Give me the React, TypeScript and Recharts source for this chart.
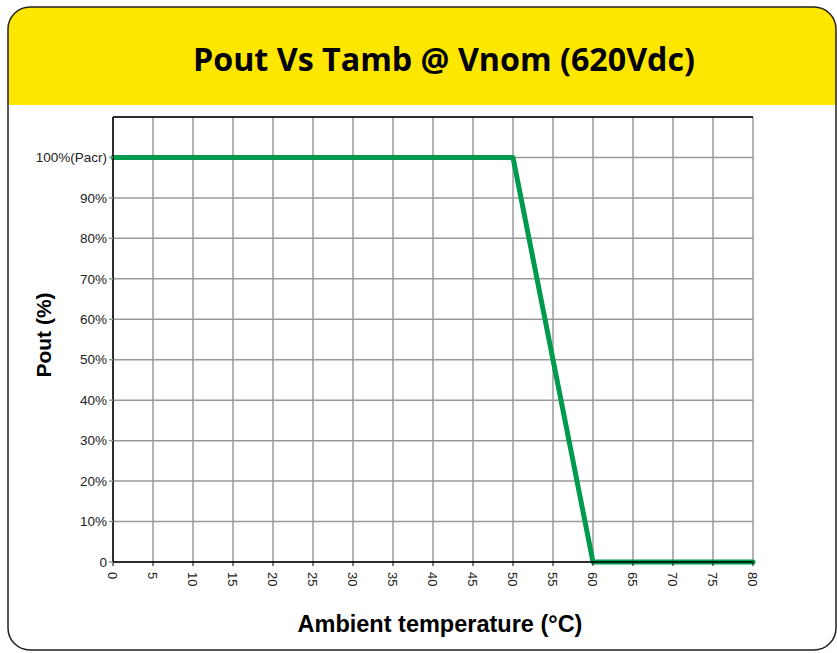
import React from "react";
import { LineChart, Line, XAxis, YAxis, CartesianGrid, ReferenceLine } from "recharts";

const temps = [0, 50, 60, 80];
const pout = [100, 100, 0, 0];
const xTicks = [0, 5, 10, 15, 20, 25, 30, 35, 40, 45, 50, 55, 60, 65, 70, 75, 80];
const yTicks = [0, 10, 20, 30, 40, 50, 60, 70, 80, 90, 100];
const yTickLabels = ["0", "10%", "20%", "30%", "40%", "50%", "60%", "70%", "80%", "90%", "100%(Pacr)"];

const data = temps.map((t, i) => ({ t, p: pout[i] }));

const XTick = (props: any) => {
  const { x, y, payload } = props;
  return (
    <text
      x={0}
      y={0}
      transform={`translate(${x},${y + 4}) rotate(90)`}
      textAnchor="start"
      dy="0.35em"
      fontSize={13}
      fill="#222"
      fontFamily="'Liberation Sans', Arial, sans-serif"
    >
      {payload.value}
    </text>
  );
};

const YTick = (props: any) => {
  const { x, y, payload } = props;
  const idx = yTicks.indexOf(payload.value);
  return (
    <text
      x={x}
      y={y}
      textAnchor="end"
      dy="0.35em"
      fontSize={13.5}
      fill="#222"
      fontFamily="'Liberation Sans', Arial, sans-serif"
    >
      {yTickLabels[idx]}
    </text>
  );
};

export default function App() {
  return (
    <div style={{ position: "absolute", left: 0, top: 0, width: 837, height: 653, background: "#fff" }}>
      <svg width={837} height={653} style={{ position: "absolute", left: 0, top: 0 }}>
        <defs>
          <clipPath id="boxclip">
            <rect x={8} y={7} width={828} height={643} rx={22} ry={22} />
          </clipPath>
        </defs>
        <rect x={8} y={7} width={828} height={98} fill="#fde700" clipPath="url(#boxclip)" />
        <rect x={8} y={7} width={828} height={643} rx={22} ry={22} fill="none" stroke="#222" strokeWidth={1.5} />
        <text
          x={444}
          y={71}
          textAnchor="middle"
          fontSize={33}
          fontWeight="bold"
          fontFamily="'Open Sans', sans-serif"
          textLength={502}
          lengthAdjust="spacingAndGlyphs"
          fill="#000"
        >
          Pout Vs Tamb @ Vnom (620Vdc)
        </text>
        <text
          x={440}
          y={632}
          textAnchor="middle"
          fontSize={23.5}
          fontWeight="bold"
          fontFamily="'Liberation Sans', Arial, sans-serif"
          fill="#000"
        >
          Ambient temperature (°C)
        </text>
        <text
          transform="translate(51,335) rotate(-90)"
          textAnchor="middle"
          fontSize={21}
          fontWeight="bold"
          fontFamily="'Liberation Sans', Arial, sans-serif"
          fill="#000"
        >
          Pout (%)
        </text>
      </svg>
      <div style={{ position: "absolute", left: 0, top: 0 }}>
        <LineChart width={837} height={653} data={data} margin={{ top: 117, right: 84, bottom: 0, left: 0 }}>
          <CartesianGrid stroke="#999" strokeWidth={1.5} />
          <XAxis
            dataKey="t"
            type="number"
            domain={[0, 80]}
            ticks={xTicks}
            interval={0}
            height={91}
            axisLine={{ stroke: "#000", strokeWidth: 1.5 }}
            tickLine={{ stroke: "#000" }}
            tickSize={4}
            tick={<XTick />}
          />
          <YAxis
            type="number"
            domain={[0, 110]}
            ticks={yTicks}
            interval={0}
            width={113}
            axisLine={{ stroke: "#000", strokeWidth: 1.5 }}
            tickLine={{ stroke: "#999", strokeWidth: 1.5 }}
            tickSize={4}
            tick={<YTick />}
          />
          <ReferenceLine y={110} stroke="#000" strokeWidth={1.5} />
          <Line
            dataKey="p"
            stroke="#009a4e"
            strokeWidth={5}
            strokeLinecap="round"
            strokeLinejoin="round"
            dot={false}
            isAnimationActive={false}
          />
        </LineChart>
      </div>
    </div>
  );
}
